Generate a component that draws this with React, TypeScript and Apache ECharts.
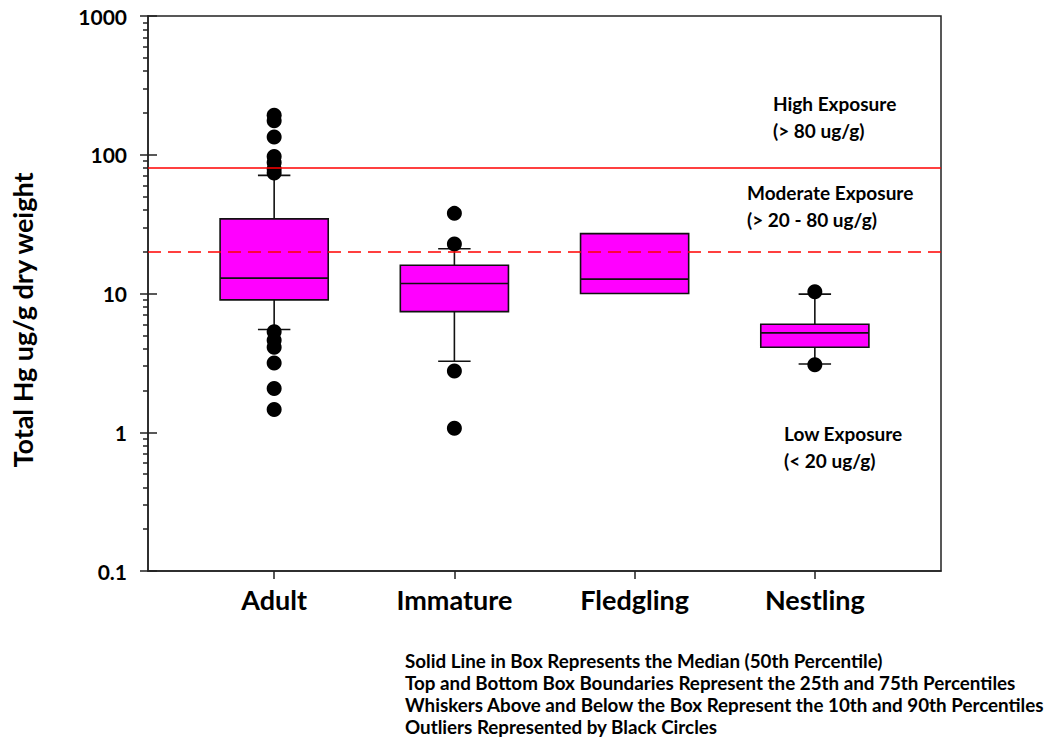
import React, { useEffect, useRef } from "react";
import * as echarts from "echarts";

// ---- Data ----
const categories = ["Adult", "Immature", "Fledgling", "Nestling"];
// [lower whisker (10th), Q1 (25th), median, Q3 (75th), upper whisker (90th)]
const boxStats = [
  [5.5, 9.0, 12.9, 34.5, 71],
  [3.25, 7.4, 11.8, 16.0, 21],
  [10.0, 10.0, 12.7, 27.0, 27.0],
  [3.1, 4.1, 5.2, 6.0, 9.9],
];
const outliersAdult = [193, 176, 134, 97, 88, 79, 74, 5.3, 4.6, 4.1, 3.15, 2.07, 1.46];
const outliersImmature = [37.8, 22.7, 2.76, 1.07];
const outliersFledgling: number[] = [];
const outliersNestling = [10.3, 3.07];
const outlierLists = [outliersAdult, outliersImmature, outliersFledgling, outliersNestling];

const yMajorTicks = [0.1, 1, 10, 100, 1000];
const yMinorTicks = [
  0.2, 0.3, 0.4, 0.5, 0.6, 0.7, 0.8, 0.9,
  2, 3, 4, 5, 6, 7, 8, 9,
  20, 30, 40, 50, 60, 70, 80, 90,
  200, 300, 400, 500, 600, 700, 800, 900,
];
const thresholdHigh = 80;
const thresholdModerate = 20;

const annotations = [
  { text: "High Exposure\n(> 80 ug/g)", x: 773, y: 90 },
  { text: "Moderate Exposure\n(> 20 - 80 ug/g)", x: 747, y: 179 },
  { text: "Low Exposure\n(< 20 ug/g)", x: 784, y: 420 },
];
const footnotes = [
  "Solid Line in Box Represents the Median (50th Percentile)",
  "Top and Bottom Box Boundaries Represent the 25th and 75th Percentiles",
  "Whiskers Above and Below the Box Represent the 10th and 90th Percentiles",
  "Outliers Represented by Black Circles",
];
const yTitle = "Total Hg ug/g dry weight";

const FONT = "Lato, 'Open Sans', sans-serif";

export default function App() {
  const ref = useRef<HTMLDivElement>(null);
  useEffect(() => {
    if (!ref.current) return;
    const chart = echarts.init(ref.current, undefined, { renderer: "svg" });

    const boxData = boxStats.map((s, i) => [i + 1, ...s]);
    const outlierData: number[][] = [];
    outlierLists.forEach((list, i) => list.forEach((v) => outlierData.push([i + 1, v])));

    const BOX_W = 0.6;
    const CAP_W = 0.18;
    const stroke = "#111";

    const renderItem = (params: any, api: any) => {
      const x = api.value(0);
      const lo = api.value(1);
      const q1 = api.value(2);
      const med = api.value(3);
      const q3 = api.value(4);
      const hi = api.value(5);
      const c = api.coord([x, med]);
      const cx = c[0];
      const half = api.size([BOX_W, 0])[0] / 2;
      const capHalf = api.size([CAP_W, 0])[0] / 2;
      const yq1 = api.coord([x, q1])[1];
      const yq3 = api.coord([x, q3])[1];
      const ylo = api.coord([x, lo])[1];
      const yhi = api.coord([x, hi])[1];
      const children: any[] = [];
      const ls = { stroke, lineWidth: 1.6 };
      if (hi > q3) {
        children.push({ type: "line", shape: { x1: cx, y1: yq3, x2: cx, y2: yhi }, style: ls });
        children.push({ type: "line", shape: { x1: cx - capHalf, y1: yhi, x2: cx + capHalf, y2: yhi }, style: ls });
      }
      if (lo < q1) {
        children.push({ type: "line", shape: { x1: cx, y1: yq1, x2: cx, y2: ylo }, style: ls });
        children.push({ type: "line", shape: { x1: cx - capHalf, y1: ylo, x2: cx + capHalf, y2: ylo }, style: ls });
      }
      children.push({
        type: "rect",
        shape: { x: cx - half, y: yq3, width: half * 2, height: yq1 - yq3 },
        style: { fill: "#ff00ff", stroke, lineWidth: 1.6 },
      });
      children.push({ type: "line", shape: { x1: cx - half, y1: c[1], x2: cx + half, y2: c[1] }, style: ls });
      return { type: "group", children };
    };

    const baseY = {
      type: "log" as const,
      logBase: 10,
      min: 0.1,
      max: 1000,
      position: "left" as const,
      splitLine: { show: false },
      minorTick: { show: false },
    };

    chart.setOption({
      animation: false,
      backgroundColor: "#ffffff",
      grid: {
        left: 148,
        right: 114,
        top: 16,
        bottom: 178,
        show: true,
        borderColor: "#222",
        borderWidth: 1.5,
        backgroundColor: "transparent",
      },
      xAxis: {
        type: "value",
        min: 0.3,
        max: 4.7,
        splitLine: { show: false },
        axisLine: { show: true, lineStyle: { color: "#222", width: 1.5 } },
        axisTick: { show: true, inside: false, length: 8, customValues: [1, 2, 3, 4], lineStyle: { color: "#222", width: 1.5 } },
        axisLabel: {
          show: true,
          customValues: [1, 2, 3, 4],
          formatter: (v: number) => categories[Math.round(v) - 1] ?? "",
          fontFamily: FONT,
          fontWeight: "bold",
          fontSize: 27,
          color: "#000",
          margin: 15,
        },
      },
      yAxis: [
        {
          ...baseY,
          axisLine: { show: true, lineStyle: { color: "#222", width: 1.5 } },
          axisTick: { show: true, inside: false, length: 8, lineStyle: { color: "#222", width: 1.5 } },
          axisLabel: {
            show: true,
            fontFamily: FONT,
            fontWeight: "bold",
            fontSize: 21,
            color: "#000",
            margin: 21,
            formatter: (v: number) => String(v),
          },
        },
        {
          ...baseY,
          axisLine: { show: false },
          axisTick: { show: true, inside: true, length: 9, customValues: yMajorTicks, lineStyle: { color: "#222", width: 1.5 } },
          axisLabel: { show: false },
        },
        {
          ...baseY,
          axisLine: { show: false },
          axisTick: { show: true, inside: false, length: 5, customValues: yMinorTicks, lineStyle: { color: "#222", width: 1.5 } },
          axisLabel: { show: false },
        },
      ],
      series: [
        {
          type: "custom",
          name: "box",
          xAxisIndex: 0,
          yAxisIndex: 0,
          renderItem,
          data: boxData,
          encode: { x: 0, y: [1, 2, 3, 4, 5] },
          z: 2,
        },
        {
          type: "scatter",
          name: "outliers",
          xAxisIndex: 0,
          yAxisIndex: 0,
          data: outlierData,
          symbol: "circle",
          symbolSize: 15,
          itemStyle: { color: "#000", opacity: 1 },
          z: 3,
        },
        {
          type: "line",
          name: "thresholds",
          xAxisIndex: 0,
          yAxisIndex: 0,
          data: [],
          z: 5,
          markLine: {
            silent: true,
            symbol: "none",
            label: { show: false },
            data: [
              { yAxis: thresholdHigh, lineStyle: { color: "#ff0000", width: 1.5, type: "solid" } },
              { yAxis: thresholdModerate, lineStyle: { color: "#ff0000", width: 1.5, type: [13, 7] } },
            ],
          },
        },
      ],
      graphic: [
        {
          type: "text",
          x: 22,
          y: 320,
          rotation: Math.PI / 2,
          style: {
            text: yTitle,
            fontFamily: FONT,
            fontWeight: "bold",
            fontSize: 27,
            fill: "#000",
            align: "center",
            verticalAlign: "middle",
          },
        },
        ...annotations.map((a) => ({
          type: "text",
          x: a.x,
          y: a.y,
          style: {
            text: a.text,
            fontFamily: FONT,
            fontWeight: "bold",
            fontSize: 19,
            lineHeight: 27,
            fill: "#000",
            align: "left",
            verticalAlign: "top",
          },
        })),
        {
          type: "text",
          x: 405,
          y: 649,
          style: {
            text: footnotes.join("\n"),
            fontFamily: FONT,
            fontWeight: "bold",
            fontSize: 18.8,
            lineHeight: 22,
            fill: "#000",
            align: "left",
            verticalAlign: "top",
          },
        },
      ],
    });
    return () => chart.dispose();
  }, []);
  return <div ref={ref} style={{ position: "fixed", left: 0, top: 0, width: 1055, height: 749 }} />;
}
